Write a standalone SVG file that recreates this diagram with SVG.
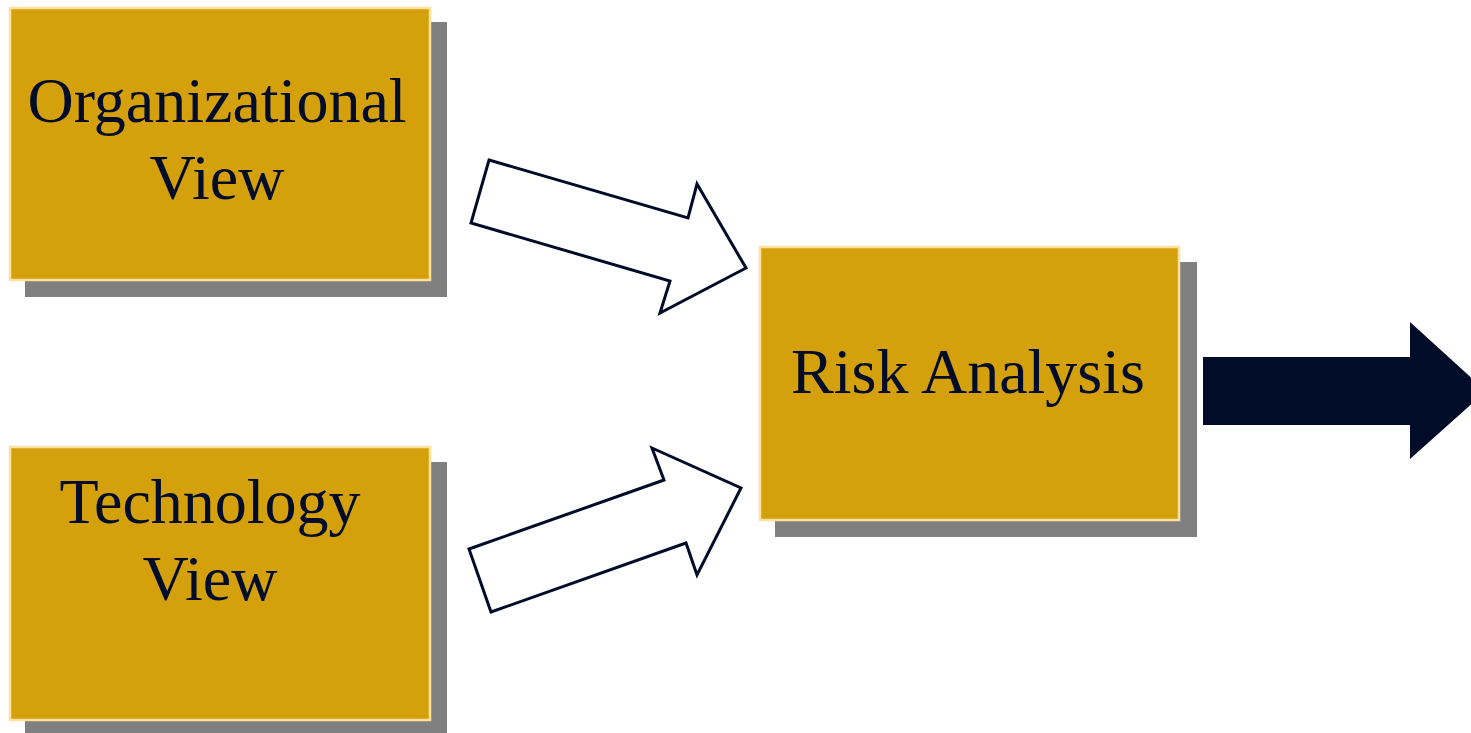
<svg xmlns="http://www.w3.org/2000/svg" width="1471" height="733" viewBox="0 0 1471 733">
<style>
.shadow{fill:#808080}
.box{fill:#D4A00C;stroke:#FFE0A0;stroke-width:2.5}
.lbl{font-family:"Liberation Serif","Times New Roman",serif;font-size:64px;fill:#000C28;text-anchor:middle}
.outline{fill:#FFFFFF;stroke:#000C28;stroke-width:3;stroke-linejoin:miter}
.solid{fill:#000C28}
</style>
<rect width="1471" height="733" fill="#FFFFFF"/>
<g id="connectors">
<polygon class="outline" points="489,160 688,218 697,184 746,268 660,313 670,281 471,223"/>
<polygon class="outline" points="469,549 664,480 652,448 741,488 697,575 686,543 491,612"/>
<polygon class="solid" points="1203,357 1410,357 1410,322 1486,391 1410,459 1410,425 1203,425"/>
</g>
<g id="node-org">
<rect class="shadow" x="25" y="22" width="422" height="275"/>
<rect class="box" x="10" y="8" width="420" height="272"/>
<text class="lbl" x="217" y="122">Organizational</text>
<text class="lbl" x="217" y="199">View</text>
</g>
<g id="node-tech">
<rect class="shadow" x="25" y="462" width="422" height="275"/>
<rect class="box" x="10" y="447" width="420" height="273"/>
<text class="lbl" x="210" y="523">Technology</text>
<text class="lbl" x="210" y="600">View</text>
</g>
<g id="node-risk">
<rect class="shadow" x="775" y="262" width="422" height="275"/>
<rect class="box" x="760" y="247" width="419" height="273"/>
<text class="lbl" x="968" y="393">Risk Analysis</text>
</g>
</svg>
